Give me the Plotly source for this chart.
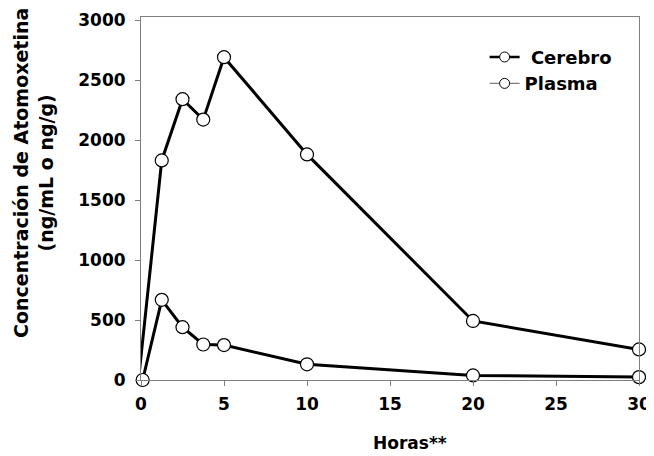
import plotly.graph_objects as go

# Data
cerebro_t = [-0.15, 1.25, 2.5, 3.75, 5, 10, 20, 30]
cerebro_y = [0, 1830, 2340, 2170, 2690, 1880, 492, 255]
plasma_t = [0.1, 1.25, 2.5, 3.75, 5, 10, 20, 30]
plasma_y = [0, 668, 440, 296, 291, 131, 38, 24]
x_ticks = [0, 5, 10, 15, 20, 25, 30]
y_ticks = [0, 500, 1000, 1500, 2000, 2500, 3000]

FONT = "DejaVu Sans"

fig = go.Figure()
marker = dict(symbol="circle", size=13, color="white", line=dict(color="black", width=1.2))

fig.add_trace(go.Scatter(x=plasma_t, y=plasma_y, mode="lines+markers",
                         line=dict(color="black", width=3), marker=marker,
                         showlegend=False, cliponaxis=False))
fig.add_trace(go.Scatter(x=cerebro_t, y=cerebro_y, mode="lines+markers",
                         line=dict(color="black", width=3), marker=marker,
                         showlegend=False, cliponaxis=False))

# legend entries (legend styling differs from the plotted lines)
lm = dict(symbol="circle", size=10, color="white", line=dict(color="black", width=1))
fig.add_trace(go.Scatter(x=[None], y=[None], mode="lines+markers", name=" Cerebro",
                         line=dict(color="black", width=2.5), marker=lm))
fig.add_trace(go.Scatter(x=[None], y=[None], mode="lines+markers", name="Plasma",
                         line=dict(color="#808080", width=1.2), marker=lm))

axis_common = dict(showline=True, linecolor="#7f7f7f", linewidth=1, mirror=True,
                   showgrid=False, zeroline=False, ticks="outside", ticklen=5,
                   tickcolor="#7f7f7f", automargin=False,
                   tickfont=dict(family=FONT, size=17, color="black", weight="bold"))
fig.update_xaxes(range=[0, 30], tickvals=x_ticks, ticklabelstandoff=4, **axis_common)
fig.update_yaxes(range=[0, 3025], tickvals=y_ticks, ticklabelstandoff=6, **axis_common)

fig.add_annotation(text="Horas**", xref="paper", yref="paper", x=0.54, y=-0.174,
                   showarrow=False, yanchor="middle",
                   font=dict(family=FONT, size=17, color="black", weight="bold"))
fig.add_annotation(text="Concentración de Atomoxetina<br>(ng/mL o ng/g)",
                   xref="paper", yref="paper", x=-0.217, y=0.57, textangle=-90,
                   showarrow=False, xanchor="center", yanchor="middle",
                   font=dict(family=FONT, size=19, color="black", weight="bold"))

# page body has an 8px margin, so the figure is sized/offset to compensate
fig.update_layout(
    width=646, height=448,
    margin=dict(l=133, r=15, t=9, b=76, autoexpand=False),
    paper_bgcolor="white", plot_bgcolor="white",
    legend=dict(x=0.69, y=0.94, xanchor="left", yanchor="top",
                bgcolor="rgba(0,0,0,0)",
                font=dict(family=FONT, size=18, color="black", weight="bold")),
)

fig.write_html("out.html")
